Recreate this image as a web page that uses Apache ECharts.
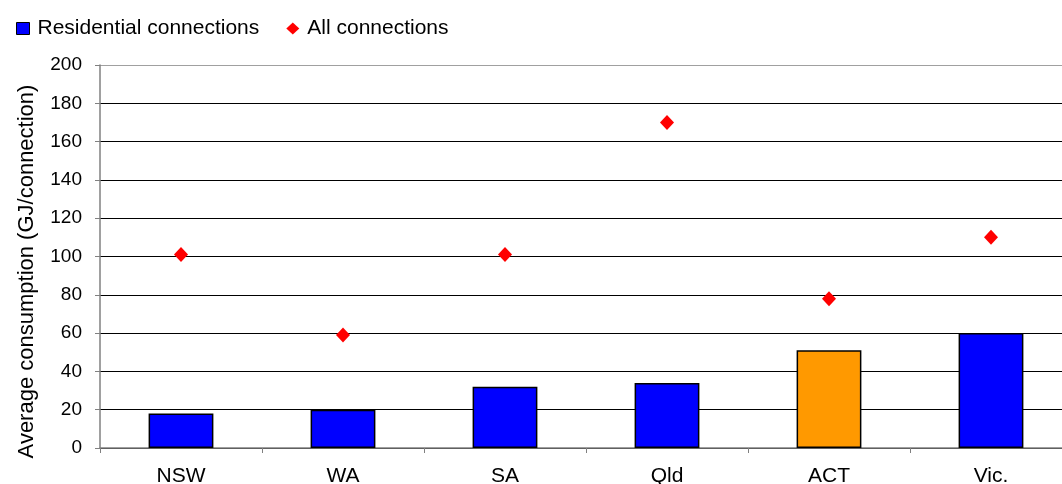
<!DOCTYPE html>
<html>
<head>
<meta charset="utf-8">
<script src="https://cdn.jsdelivr.net/npm/echarts@6/dist/echarts.min.js"></script>
<style>
  html, body { margin: 0; padding: 0; background: #fff; }
  #chart { width: 1062px; height: 484px; }
</style>
</head>
<body>
<div id="chart"></div>
<script>
// Average gas consumption per connection by jurisdiction
const states = ['NSW', 'WA', 'SA', 'Qld', 'ACT', 'Vic.'];
const residential = [18, 20, 32, 34, 51, 60];
const allConnections = [101, 59, 101, 170, 78, 110];
const highlightState = 'ACT';
const yTicks = { min: 0, max: 200, step: 20 };

const FONT = 'Liberation Sans, Arial, sans-serif';
const AXIS_GREY = '#808080';

// Grid lines are black, the top edge of the plot is grey
const gridColors = [];
for (let v = yTicks.min; v <= yTicks.max; v += yTicks.step) {
  gridColors.push(v === yTicks.max ? '#a0a0a0' : '#000000');
}

const barData = states.map((s, i) => ({
  value: residential[i],
  itemStyle: { color: s === highlightState ? '#ff9900' : '#0000ff' }
}));

const chart = echarts.init(document.getElementById('chart'), null, { renderer: 'canvas' });
chart.setOption({
  animation: false,
  backgroundColor: '#ffffff',
  textStyle: { fontFamily: FONT, color: '#000' },
  legend: {
    left: 11,
    top: 13,
    itemWidth: 13,
    itemHeight: 12,
    itemGap: 27,
    textStyle: { fontFamily: FONT, fontSize: 21, color: '#000', padding: [0, 0, 0, 3] },
    data: [
      { name: 'Residential connections', icon: 'rect',
        itemStyle: { color: '#0000ff', borderColor: '#000', borderWidth: 1 } },
      { name: 'All connections', icon: 'diamond',
        itemStyle: { color: '#ff0000', borderWidth: 0, opacity: 1 } }
    ]
  },
  // plot runs slightly past the right edge of the canvas
  grid: { left: 100, top: 65, width: 972, height: 383, containLabel: false, outerBoundsMode: 'none' },
  xAxis: {
    type: 'category',
    data: states,
    boundaryGap: true,
    axisLine: { lineStyle: { color: AXIS_GREY, width: 1.5 } },
    axisTick: { show: true, length: 5, lineStyle: { color: AXIS_GREY } },
    axisLabel: { fontFamily: FONT, fontSize: 21, color: '#000', margin: 18 },
    splitLine: { show: false }
  },
  yAxis: {
    type: 'value',
    min: yTicks.min,
    max: yTicks.max,
    interval: yTicks.step,
    name: 'Average consumption (GJ/connection)',
    nameLocation: 'middle',
    nameGap: 62,
    nameRotate: 90,
    nameTextStyle: { fontFamily: FONT, fontSize: 22, color: '#000', padding: [0, 30, 0, 0] },
    axisLine: { show: true, lineStyle: { color: AXIS_GREY, width: 1.5 } },
    axisTick: { show: true, length: 5, lineStyle: { color: AXIS_GREY } },
    axisLabel: { fontFamily: FONT, fontSize: 19, color: '#000', margin: 18 },
    splitLine: { show: true, lineStyle: { color: gridColors, width: 1.2 } }
  },
  series: [
    {
      name: 'Residential connections',
      type: 'bar',
      data: barData,
      barWidth: '40%',
      itemStyle: { borderColor: '#000', borderWidth: 1.5 },
      z: 2
    },
    {
      name: 'All connections',
      type: 'scatter',
      data: allConnections,
      symbol: 'diamond',
      symbolSize: [14, 15],
      itemStyle: { color: '#ff0000', opacity: 1 },
      z: 3
    }
  ]
});
</script>
</body>
</html>
